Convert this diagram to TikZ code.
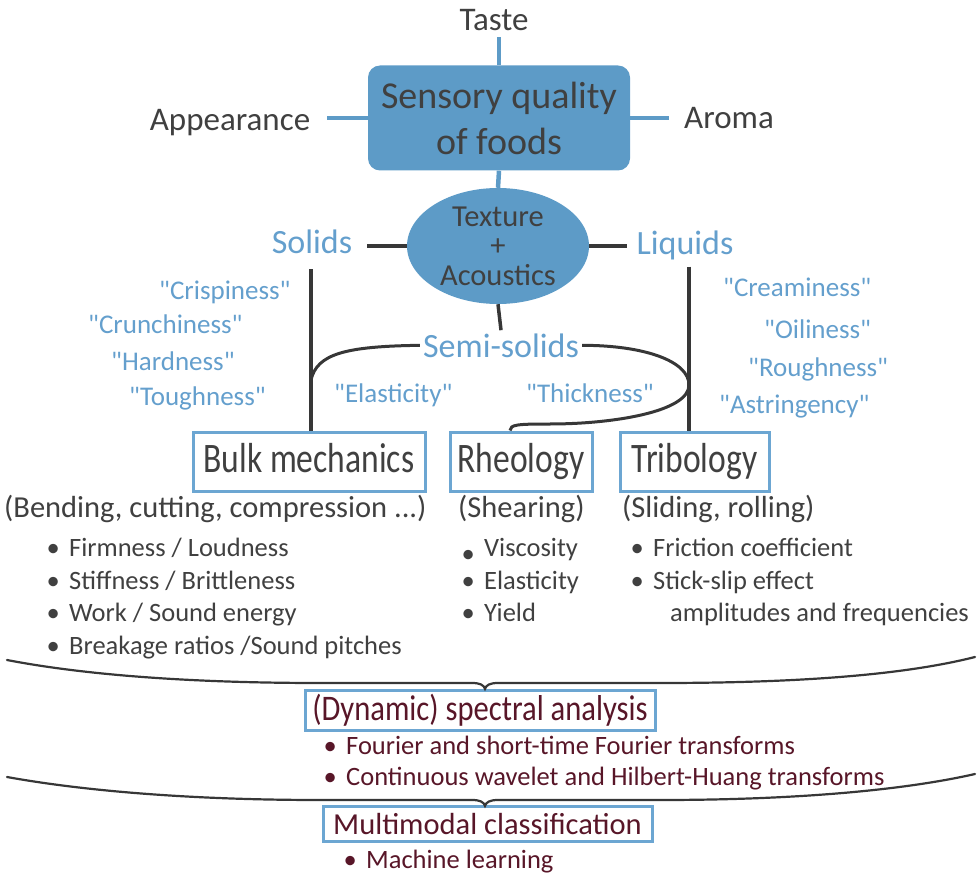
\documentclass[tikz,border=0pt]{standalone}
\usepackage{fontspec}
\setmainfont{Carlito}[Ligatures=TeXOff]
\newfontfamily\tallfont[FakeStretch=0.8]{Carlito}
\newfontfamily\midfont[FakeStretch=0.85]{Carlito}
\usetikzlibrary{shapes.geometric}

\definecolor{fillblue}{RGB}{93,155,199}
\definecolor{qblue}{RGB}{100,159,205}
\definecolor{boxblue}{RGB}{108,166,210}
\definecolor{txtgray}{RGB}{64,64,64}
\definecolor{linegray}{RGB}{55,55,55}
\definecolor{maroon}{RGB}{88,22,40}

% bullet hanging to the left of the item text
\newcommand\bul{\llap{\textbullet\hspace{9.4pt}}}
\newcommand\lowbul{\llap{\raisebox{-6pt}{\textbullet}\hspace{9.4pt}}}

\begin{document}
\begin{tikzpicture}[x=1pt,y=-1pt,
  lbl/.style={inner sep=3pt,text=txtgray,font=\fontsize{33}{40}\selectfont,anchor=base},
  cat/.style={inner sep=3pt,text=qblue,font=\fontsize{34}{40}\selectfont,anchor=base},
  qt/.style={inner sep=1pt,text=qblue,font=\fontsize{27}{32}\selectfont,anchor=base west},
  hd/.style={inner sep=1pt,text=txtgray,font=\fontsize{30.5}{36}\selectfont,anchor=base west},
  li/.style={inner sep=1pt,text=txtgray,font=\fontsize{26.5}{32}\selectfont,anchor=base west},
  lim/.style={li,text=maroon},
  method/.style={draw=boxblue,line width=3pt,inner sep=0pt,text=txtgray,
    font=\tallfont\fontsize{42}{50}\selectfont,text height=31pt,text depth=9pt,minimum height=59pt},
  stage/.style={draw=boxblue,line width=3pt,inner sep=0pt,text=maroon},
  bline/.style={draw=fillblue,line width=4.5pt},
  dline/.style={draw=linegray,line width=3.5pt},
  cline/.style={draw=linegray,line width=3pt},
  brace/.style={draw=linegray,line width=2.2pt,line cap=round}]

\useasboundingbox (0,0) rectangle (977,877);

% central concept and the four senses
\node[rounded corners=12pt,fill=fillblue,minimum width=262pt,minimum height=105pt,
      inner sep=0pt,align=center,text=txtgray,font=\fontsize{38}{46}\selectfont]
      (sq) at (499,118) {Sensory quality\\of foods};
\node[lbl] (taste)  at (494,31)  {Taste};
\node[lbl] (appear) at (230,131) {Appearance};
\node[lbl] (aroma)  at (729,129) {Aroma};

\node[ellipse,fill=fillblue,minimum width=182pt,minimum height=116pt,inner sep=0pt,
      align=center,text=txtgray,font=\fontsize{30.5}{29.5}\selectfont]
      (tex) at (498,246) {Texture\\+\\Acoustics};

\draw[bline,shorten >=3pt] (sq.north) -- (sq.north |- taste.south);
\draw[bline,shorten >=14pt] (sq.west) -- (sq.west -| appear.east);
\draw[bline,shorten >=12pt] (sq.east) -- (sq.east -| aroma.west);
\draw[bline] (sq.south) -- (tex.north);

% states of matter
\node[cat] (solids)  at (312,254) {Solids};
\node[cat] (liquids) at (685,255) {Liquids};
\node[cat] (semi)    at (501,357) {Semi-solids};

\draw[dline,shorten >=12pt] (tex.west) -- (tex.west -| solids.east);
\draw[dline,shorten >=6pt] (tex.east) -- (tex.east -| liquids.west);
\draw[dline] (tex.south) -- (semi.north);

% texture attributes
\node[qt] (crisp)  at (158,300) {"Crispiness"};
\node[qt] (crunch) at (87,334)  {"Crunchiness"};
\node[qt] (hard)   at (110,370) {"Hardness"};
\node[qt] (tough)  at (128,405) {"Toughness"};
\node[qt] (elast)  at (333,402) {"Elasticity"};
\node[qt] (thick)  at (525,402) {"Thickness"};
\node[qt] (cream)  at (722,297) {"Creaminess"};
\node[qt] (oily)   at (763,338) {"Oiliness"};
\node[qt] (rough)  at (747,376) {"Roughness"};
\node[qt] (astr)   at (718,413) {"Astringency"};

% measurement methods
\node[method,minimum width=232pt] (bulk)  at (309,461.5)   {Bulk mechanics};
\node[method,minimum width=142pt] (rheo)  at (521,461.5)   {Rheology};
\node[method,minimum width=149pt] (tribo) at (694.5,461.5) {Tribology};

\coordinate (sjoin) at (311,380);
\coordinate (ljoin) at (689,385);
\coordinate (rbend) at (550,424);

\draw[dline,shorten <=12pt] (solids.south -| sjoin) -- (sjoin |- bulk.north);
\draw[dline,shorten <=3pt] (liquids.south -| ljoin) -- (ljoin |- tribo.north);
\draw[cline] (semi.west) .. controls +(-75,1) and +(6,-26) .. (sjoin);
\draw[cline] (semi.east) .. controls +(62,0) and +(0,-24) .. (ljoin)
  .. controls +(0,27) and +(62,0) .. (rbend)
  .. controls +(-32,0) and +(0,-6) .. ([xshift=-11pt]rheo.north);

% method details
\node[hd] (bend)  at (3,517)   {(Bending, cutting, compression ...)};
\node[hd] (shear) at (457,517) {(Shearing)};
\node[hd] (slide) at (621,517) {(Sliding, rolling)};

\node[li] (bm1) at (68,556) {\bul Firmness / Loudness};
\node[li] (bm2) at (68,589) {\bul Stiffness / Brittleness};
\node[li] (bm3) at (68,621) {\bul Work / Sound energy};
\node[li] (bm4) at (68,654) {\bul Breakage ratios /Sound pitches};

\node[li] (rh1) at (483,556) {\lowbul Viscosity};
\node[li] (rh2) at (483,589) {\bul Elasticity};
\node[li] (rh3) at (483,621) {\bul Yield};

\node[li] (tr1) at (652,556) {\bul Friction coefficient};
\node[li] (tr2) at (652,589) {\bul Stick-slip effect};
\node[li] (tr3) at (669,621) {amplitudes and frequencies};

% analysis stages
\node[stage,minimum width=350pt,minimum height=40pt,
      font=\midfont\fontsize{36}{42}\selectfont,text height=27pt,text depth=7pt]
      (dyn) at (480,710) {(Dynamic) spectral analysis};
\node[lim] (dy1) at (345,754) {\bul Fourier and short-time Fourier transforms};
\node[lim] (dy2) at (345,785) {\bul Continuous wavelet and Hilbert-Huang transforms};

\node[stage,minimum width=329pt,minimum height=35pt,
      font=\fontsize{30.5}{36}\selectfont,text height=22pt,text depth=0pt]
      (multi) at (487.5,823.5) {Multimodal classification};
\node[lim] (ml1) at (365,868) {\bul Machine learning};

% gathering braces
\coordinate (b1l) at (7,660);
\coordinate (b1r) at (975,657);
\coordinate (b1tip) at (485,689);
\coordinate (b2l) at (7,777);
\coordinate (b2r) at (975,774);
\coordinate (b2tip) at (485,806);

\draw[brace] (b1l) .. controls (90,676) and (200,683) .. (320,683) -- (472,683)
  .. controls (480,683) and (484,685) .. (b1tip)
  .. controls (486,685) and (490,683) .. (498,683) -- (660,683)
  .. controls (790,683) and (900,676) .. (b1r);
\draw[brace] (b2l) .. controls (90,792) and (200,800) .. (320,800) -- (472,800)
  .. controls (480,800) and (484,802) .. (b2tip)
  .. controls (486,802) and (490,800) .. (498,800) -- (660,800)
  .. controls (790,800) and (900,791) .. (b2r);

\end{tikzpicture}
\end{document}
